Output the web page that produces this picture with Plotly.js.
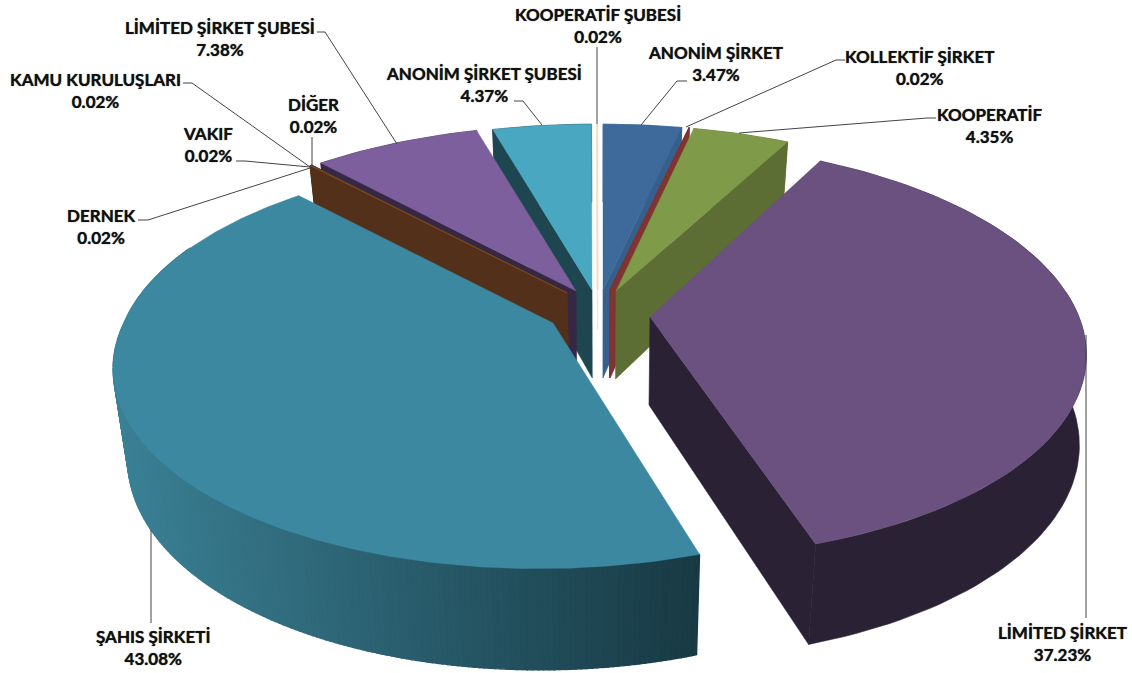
<!DOCTYPE html>
<html><head><meta charset="utf-8">
<script src="https://cdn.plot.ly/plotly-3.0.1.min.js"></script>
<style>html,body{margin:0;padding:0;background:#fff}#c{width:1132px;height:673px}</style>
</head><body><div id="c"></div>
<script>
// Data, clockwise from 12 o'clock
const categories = ["ANONİM ŞİRKET","KOLLEKTİF ŞİRKET","KOOPERATİF","LİMİTED ŞİRKET","ŞAHIS ŞİRKETİ","DERNEK","VAKIF","KAMU KURULUŞLARI","DİĞER","LİMİTED ŞİRKET ŞUBESİ","ANONİM ŞİRKET ŞUBESİ","KOOPERATİF ŞUBESİ"];
const values = [3.47,0.02,4.35,37.23,43.08,0.02,0.02,0.02,0.02,7.38,4.37,0.02];

// Styling and layout
const topColors  = ["#3E6A9B","#7F3432","#7F9A48","#6A5180","#3C88A1","#B5682C","#4F6F8D","#7C8F55","#6C5A88","#7E5F9D","#4AA7C1","#FBD9BD"];
const wallColors = ["#365F8C","#7F3432","#5C6E33","#2B2135","#3A7D90","#52301A","#52301A","#52301A","#52301A","#362845","#1E4650","#EFE9E3"];
const apexX = [603,610,616,650,553,567,567,567,567,576,592,597.5];
const apexY = [290,290,291,317,323,293,293,293,293,291,290,290];
const wallDepth = [88,88,88,88,88,88,88,88,88,88,88,40];
const wallShiftX = [null,null,null,-7,null,null,null,null,null,null,null,null];
const sliceA = [433,433,425,429,429,433,433,433,433,433,433,433];
const sliceB = [198,198,198,202,198,198,198,198,198,198,198,198];
const sliceK = [0.194,0.194,0.194,0.16,0.194,0.194,0.194,0.194,0.194,0.194,0.194,0.194];
const skewUp   = [0,0,0,0.05,0,0,0,0,0,0,0,0];
const skewDown = [0,0,0,0.05,-0.06,0,0,0,0,0,0,0];
const labelX = [715,919,990,1062,153,101,208,95,313,220,484,598];
const labelY = [63,67,125,643,647,226,144,90,115,38,84,25];
const leaderX = [[687,677,641],[845,836,686],[936,927,739],[1086,1086],[151,151],[138,148,310],[236,245,310],[183,192,310],[312,312],[317,325,397],[514,523,542],[597,597]];
const leaderY = [[81,81,125],[60,60,127],[118,118,133],[335,618],[530,623],[220,220,168],[161,161,167],[83,83,167],[137,167],[32,32,144],[101,101,125],[47,124]];
const paintOrder = [11,0,1,2,10,9,8,7,6,5,4,3];
const KD=0.13, SHRINK=0.03, VX=600;
const total = values.reduce((a,b)=>a+b,0);
const rad = d=>d*Math.PI/180;

function rim(i,t){const c=Math.cos(rad(t)),s=Math.sin(rad(t)),f=1/(1+sliceK[i]*c);
  const dy=-sliceB[i]*c*f;
  return {x:apexX[i]+sliceA[i]*s*f+dy*(dy<0?skewUp[i]:skewDown[i]),y:apexY[i]+dy,t};}
function apex(i){return {x:apexX[i],y:apexY[i],t:null};}
function drop(i,p){const d=wallDepth[i]/(p.t===null?1:(1+KD*Math.cos(rad(p.t))));
  const shift=wallShiftX[i]===null?(VX-p.x)*SHRINK:(p.t===null?-1:wallShiftX[i]);
  return {x:p.x+shift,y:p.y+d};}
function poly(pts,color,lw){return {type:'scatter',mode:'lines',x:pts.map(p=>p.x).concat(pts[0].x),y:pts.map(p=>p.y).concat(pts[0].y),
  fill:'toself',fillcolor:color,line:{color:color,width:lw===undefined?0.6:lw},hoverinfo:'skip',showlegend:false};}
function mix(c1,c2,u){const h=c=>[1,3,5].map(n=>parseInt(c.substr(n,2),16));const a=h(c1),b=h(c2);
  return 'rgb('+a.map((v,j)=>Math.round(v+(b[j]-v)*u)).join(',')+')';}

const starts=[];let acc=0;values.forEach(v=>{starts.push(acc/total*360);acc+=v;});
const traces=[];
paintOrder.forEach(i=>{
  const s=starts[i],e=s+values[i]/total*360;
  const gradient=categories[i]==="ŞAHIS ŞİRKETİ";
  const n=Math.max(1,Math.ceil((e-s)/(gradient?0.6:1.5)));
  const arc=[];for(let j=0;j<=n;j++)arc.push(rim(i,s+(e-s)*j/n));
  const ap=apex(i);
  // outer wall
  if(gradient){
    for(let j=n-1;j>=0;j--){
      if(Math.cos(rad(arc[j].t))>0.4)continue;
      const u=Math.min(1,Math.max(0,(arc[j].x-112)/(700-112)));
      traces.push(poly([arc[j],arc[j+1],drop(i,arc[j+1]),drop(i,arc[j])],mix("#3B8196","#183A44",u),1.4));
    }
  }else{
    traces.push(poly(arc.concat(arc.slice().reverse().map(p=>drop(i,p))),wallColors[i]));
  }
  // radial walls that face the viewer
  if(Math.sin(rad(s))<0){const r=arc[0];traces.push(poly([ap,r,drop(i,r),drop(i,ap)],wallColors[i],values[i]<0.1?1.5:0.6));}
  if(Math.sin(rad(e))>0){const r=arc[n];traces.push(poly([ap,r,drop(i,r),drop(i,ap)],wallColors[i],values[i]<0.1?1.5:0.6));}
  // top face
  traces.push(poly([ap].concat(arc),topColors[i],values[i]<0.1?(i===11?1.8:0.3):0.4));
});
// leader lines
categories.forEach((c,i)=>traces.push({type:'scatter',mode:'lines',x:leaderX[i],y:leaderY[i],line:{color:'#444',width:1},hoverinfo:'skip',showlegend:false}));

const annotations=categories.map((c,i)=>({x:labelX[i],y:labelY[i],xref:'x',yref:'y',showarrow:false,align:'center',
  xanchor:'center',yanchor:'middle',text:'<b>'+c+'<br>'+values[i].toFixed(2)+'%</b>',
  font:{family:'Lato, "Open Sans", sans-serif',size:17,color:'#111',shadow:'0 0 1px #333'}}));

Plotly.newPlot('c',traces,{width:1132,height:673,margin:{l:0,r:0,t:0,b:0},paper_bgcolor:'#fff',plot_bgcolor:'#fff',showlegend:false,
  xaxis:{range:[0,1132],visible:false,fixedrange:true},yaxis:{range:[673,0],visible:false,fixedrange:true},annotations},
  {staticPlot:true,displayModeBar:false});
</script></body></html>
